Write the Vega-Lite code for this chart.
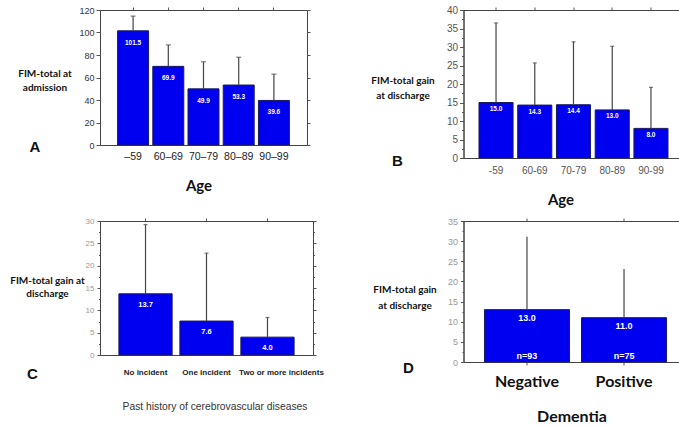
{
  "$schema": "https://vega.github.io/schema/vega-lite/v6.json",
  "autosize": {"type": "pad"},
  "padding": {"left": 9, "top": 4, "right": 0, "bottom": 0},
  "background": "white",
  "bounds": "flush",
  "columns": 2,
  "spacing": {"row": 63, "column": 150.5},
  "config": {
    "view": {"stroke": "#444", "strokeWidth": 1},
    "font": "Liberation Sans",
    "axis": {"grid": false, "domainColor": "#444", "tickColor": "#555"}
  },
  "concat": [
    {
      "width": 207, "height": 135,
      "title": {"text": "A", "orient": "top", "anchor": "start", "frame": "group", "align": "center", "baseline": "middle", "offset": 0, "dx": -65, "dy": 156, "fontSize": 15, "fontWeight": "bold", "font": "Liberation Sans", "color": "#111"},
      "data": {"values": [
        {"age": "–59", "v": 101.5, "e": 114.5},
        {"age": "60–69", "v": 69.9, "e": 89},
        {"age": "70–79", "v": 49.9, "e": 74},
        {"age": "80–89", "v": 53.3, "e": 78},
        {"age": "90–99", "v": 39.6, "e": 63}
      ]},
      "resolve": {"axis": {"x": "independent", "y": "independent"}},
      "layer": [
        {
          "mark": {"type": "bar", "fill": "#0000F0", "stroke": "#1a1a5a", "strokeWidth": 1},
          "encoding": {
            "x": {"field": "age", "type": "nominal", "sort": null, "scale": {"paddingInner": 0.12, "paddingOuter": 0.5},
              "axis": {"orient": "bottom", "labelAngle": 0, "ticks": false, "domain": false, "labelPadding": 6, "labelFontSize": 10.5, "labelColor": "#222", "title": "Age", "titleFont": "Lato", "titleFontSize": 15, "titleFontWeight": "bold", "titleColor": "#111", "titleX": 98.5, "titleY": 40, "titleBaseline": "middle", "titleAlign": "center"}},
            "y": {"field": "v", "type": "quantitative", "scale": {"domain": [0, 120], "nice": false},
              "axis": {"orient": "left", "values": [0, 20, 40, 60, 80, 100, 120], "tickSize": 4, "labelFontSize": 9, "labelColor": "#333", "labelPadding": 2, "title": ["FIM-total at", "admission"], "titleAngle": 0, "titleFont": "Lato", "titleFontSize": 10, "titleFontWeight": "bold", "titleColor": "#111", "titleLineHeight": 14, "titleX": -55.5, "titleY": 63, "titleAlign": "center", "titleBaseline": "middle"}}
          }
        },
        {
          "mark": {"type": "rule", "color": "#444", "strokeWidth": 1.2},
          "encoding": {
            "x": {"field": "age", "type": "nominal", "sort": null, "scale": {"paddingInner": 0.12, "paddingOuter": 0.5},
              "axis": {"orient": "top", "labels": false, "domain": false, "tickSize": 3, "title": null}},
            "y": {"field": "v", "type": "quantitative", "scale": {"domain": [0, 120], "nice": false},
              "axis": {"orient": "right", "labels": false, "domain": false, "tickSize": 3, "values": [0, 20, 40, 60, 80, 100, 120], "title": null}},
            "y2": {"field": "e"}
          }
        },
        {
          "mark": {"type": "tick", "orient": "horizontal", "size": 5, "thickness": 1.2, "color": "#444"},
          "encoding": {
            "x": {"field": "age", "type": "nominal", "sort": null, "axis": null},
            "y": {"field": "e", "type": "quantitative", "axis": null}
          }
        },
        {
          "mark": {"type": "text", "color": "white", "fontSize": 6.5, "fontWeight": "bold", "baseline": "middle", "dy": 12},
          "encoding": {
            "x": {"field": "age", "type": "nominal", "sort": null, "axis": null},
            "y": {"field": "v", "type": "quantitative", "axis": null},
            "text": {"field": "v", "type": "quantitative", "format": ".1f"}
          }
        }
      ]
    },
    {
      "width": 220, "height": 148,
      "title": {"text": "B", "orient": "top", "anchor": "start", "frame": "group", "align": "center", "baseline": "middle", "offset": 0, "dx": -66, "dy": 171, "fontSize": 15, "fontWeight": "bold", "font": "Liberation Sans", "color": "#111"},
      "data": {"values": [
        {"age": "-59", "v": 15.0, "e": 36.5},
        {"age": "60-69", "v": 14.3, "e": 25.7},
        {"age": "70-79", "v": 14.4, "e": 31.4},
        {"age": "80-89", "v": 13.0, "e": 30.2},
        {"age": "90-99", "v": 8.0, "e": 19.1}
      ]},
      "resolve": {"axis": {"x": "independent", "y": "independent"}},
      "layer": [
        {
          "mark": {"type": "bar", "fill": "#0000F0", "stroke": "#1a1a5a", "strokeWidth": 1},
          "encoding": {
            "x": {"field": "age", "type": "nominal", "sort": null, "scale": {"paddingInner": 0.12, "paddingOuter": 0.4},
              "axis": {"orient": "bottom", "labelAngle": 0, "ticks": false, "domain": false, "labelPadding": 7, "labelFontSize": 10, "labelColor": "#555", "title": "Age", "titleFont": "Lato", "titleFontSize": 15, "titleFontWeight": "bold", "titleColor": "#111", "titleX": 97, "titleY": 41, "titleBaseline": "middle", "titleAlign": "center"}},
            "y": {"field": "v", "type": "quantitative", "scale": {"domain": [0, 40], "nice": false},
              "axis": {"orient": "left", "values": [0, 2.5, 5, 7.5, 10, 12.5, 15, 17.5, 20, 22.5, 25, 27.5, 30, 32.5, 35, 37.5, 40], "labelExpr": "datum.value % 5 === 0 ? datum.label : ''", "tickSize": {"condition": {"test": "datum.value % 5 === 0", "value": 4}, "value": 2}, "labelFontSize": 10, "labelColor": "#555", "labelPadding": 2, "title": ["FIM-total gain", "at discharge"], "titleAngle": 0, "titleFont": "Lato", "titleFontSize": 10, "titleFontWeight": "bold", "titleColor": "#111", "titleLineHeight": 15, "titleX": -61, "titleY": 70.5, "titleAlign": "center", "titleBaseline": "middle"}}
          }
        },
        {
          "mark": {"type": "rule", "color": "#444", "strokeWidth": 1.2},
          "encoding": {
            "x": {"field": "age", "type": "nominal", "sort": null, "scale": {"paddingInner": 0.12, "paddingOuter": 0.4},
              "axis": {"orient": "top", "labels": false, "domain": false, "tickSize": 3, "title": null}},
            "y": {"field": "v", "type": "quantitative", "scale": {"domain": [0, 40], "nice": false},
              "axis": {"orient": "right", "labels": false, "domain": false, "tickSize": 3, "values": [0, 5, 10, 15, 20, 25, 30, 35, 40], "title": null}},
            "y2": {"field": "e"}
          }
        },
        {
          "mark": {"type": "tick", "orient": "horizontal", "size": 4, "thickness": 1.2, "color": "#444"},
          "encoding": {
            "x": {"field": "age", "type": "nominal", "sort": null, "axis": null},
            "y": {"field": "e", "type": "quantitative", "axis": null}
          }
        },
        {
          "mark": {"type": "text", "color": "white", "fontSize": 6.5, "fontWeight": "bold", "baseline": "middle", "dy": 6.5},
          "encoding": {
            "x": {"field": "age", "type": "nominal", "sort": null, "axis": null},
            "y": {"field": "v", "type": "quantitative", "axis": null},
            "text": {"field": "v", "type": "quantitative", "format": ".1f"}
          }
        }
      ]
    },
    {
      "width": 213, "height": 134,
      "title": {"text": "C", "orient": "top", "anchor": "start", "frame": "group", "align": "center", "baseline": "middle", "offset": 0, "dx": -67.5, "dy": 172, "fontSize": 15, "fontWeight": "bold", "font": "Liberation Sans", "color": "#111"},
      "data": {"values": [
        {"h": "No incident", "v": 13.7, "e": 29.2},
        {"h": "One incident", "v": 7.6, "e": 22.8},
        {"h": "Two or more incidents", "v": 4.0, "e": 8.4}
      ]},
      "resolve": {"axis": {"x": "independent", "y": "independent"}},
      "layer": [
        {
          "mark": {"type": "bar", "fill": "#0000F0", "stroke": "#1a1a5a", "strokeWidth": 1},
          "encoding": {
            "x": {"field": "h", "type": "nominal", "sort": null, "scale": {"paddingInner": 0.127, "paddingOuter": 0.31},
              "axis": {"orient": "bottom", "labelAngle": 0, "ticks": false, "domain": false, "labelPadding": 13, "labelFontSize": 8, "labelFontWeight": "bold", "labelColor": "#222", "labelLimit": 0, "labelOffset": {"condition": {"test": "datum.value === 'Two or more incidents'", "value": 14}, "value": 0}, "title": "Past history of cerebrovascular diseases", "titleFont": "Liberation Sans", "titleFontSize": 10.3, "titleFontWeight": "normal", "titleColor": "#333", "titleX": 114.5, "titleY": 51, "titleBaseline": "middle", "titleAlign": "center"}},
            "y": {"field": "v", "type": "quantitative", "scale": {"domain": [0, 30], "nice": false},
              "axis": {"orient": "left", "values": [0, 2.5, 5, 7.5, 10, 12.5, 15, 17.5, 20, 22.5, 25, 27.5, 30], "labelExpr": "datum.value % 5 === 0 ? datum.label : ''", "tickSize": {"condition": {"test": "datum.value % 5 === 0", "value": 3}, "value": 1.5}, "labelFontSize": 8, "labelColor": "#999", "labelPadding": 3, "title": ["FIM-total gain at", "discharge"], "titleAngle": 0, "titleFont": "Lato", "titleFontSize": 10, "titleFontWeight": "bold", "titleColor": "#111", "titleLineHeight": 13, "titleX": -53, "titleY": 59, "titleAlign": "center", "titleBaseline": "middle"}}
          }
        },
        {
          "mark": {"type": "rule", "color": "#444", "strokeWidth": 1.2},
          "encoding": {
            "x": {"field": "h", "type": "nominal", "sort": null, "scale": {"paddingInner": 0.127, "paddingOuter": 0.31},
              "axis": {"orient": "top", "labels": false, "domain": false, "tickSize": 3, "title": null}},
            "y": {"field": "v", "type": "quantitative", "scale": {"domain": [0, 30], "nice": false},
              "axis": {"orient": "right", "labels": false, "domain": false, "values": [0, 2.5, 5, 7.5, 10, 12.5, 15, 17.5, 20, 22.5, 25, 27.5, 30], "tickSize": {"condition": {"test": "datum.value % 5 === 0", "value": 3}, "value": 1.5}, "title": null}},
            "y2": {"field": "e"}
          }
        },
        {
          "mark": {"type": "tick", "orient": "horizontal", "size": 4, "thickness": 1.2, "color": "#444"},
          "encoding": {
            "x": {"field": "h", "type": "nominal", "sort": null, "axis": null},
            "y": {"field": "e", "type": "quantitative", "axis": null}
          }
        },
        {
          "mark": {"type": "text", "color": "white", "fontSize": 7.5, "fontWeight": "bold", "baseline": "middle", "dy": 11},
          "encoding": {
            "x": {"field": "h", "type": "nominal", "sort": null, "axis": null},
            "y": {"field": "v", "type": "quantitative", "axis": null},
            "text": {"field": "v", "type": "quantitative", "format": ".1f"}
          }
        }
      ]
    },
    {
      "width": 224, "height": 141,
      "title": {"text": "D", "orient": "top", "anchor": "start", "frame": "group", "align": "center", "baseline": "middle", "offset": 0, "dx": -55, "dy": 166, "fontSize": 15, "fontWeight": "bold", "font": "Liberation Sans", "color": "#111"},
      "data": {"values": [
        {"d": "Negative", "v": 13.0, "e": 31.1, "n": "n=93"},
        {"d": "Positive", "v": 11.0, "e": 23.1, "n": "n=75"}
      ]},
      "resolve": {"axis": {"x": "independent", "y": "independent"}},
      "layer": [
        {
          "mark": {"type": "bar", "fill": "#0000F0", "stroke": "#1a1a5a", "strokeWidth": 1},
          "encoding": {
            "x": {"field": "d", "type": "nominal", "sort": null, "scale": {"paddingInner": 0.124, "paddingOuter": 0.216},
              "axis": {"orient": "bottom", "labelAngle": 0, "ticks": true, "tickSize": 3, "domain": false, "labelPadding": 8, "labelFont": "Lato", "labelFontSize": 16, "labelFontWeight": "bold", "labelColor": "#111", "title": "Dementia", "titleFont": "Lato", "titleFontSize": 16, "titleFontWeight": "bold", "titleColor": "#111", "titleX": 108, "titleY": 54, "titleBaseline": "middle", "titleAlign": "center"}},
            "y": {"field": "v", "type": "quantitative", "scale": {"domain": [0, 35], "nice": false},
              "axis": {"orient": "left", "values": [0, 2.5, 5, 7.5, 10, 12.5, 15, 17.5, 20, 22.5, 25, 27.5, 30, 32.5, 35], "labelExpr": "datum.value % 5 === 0 ? datum.label : ''", "tickSize": {"condition": {"test": "datum.value % 5 === 0", "value": 3}, "value": 1.5}, "labelFontSize": 9, "labelColor": "#999", "labelPadding": 3, "title": ["FIM-total gain", "at discharge"], "titleAngle": 0, "titleFont": "Lato", "titleFontSize": 10, "titleFontWeight": "bold", "titleColor": "#111", "titleLineHeight": 16, "titleX": -59, "titleY": 68, "titleAlign": "center", "titleBaseline": "middle"}}
          }
        },
        {
          "mark": {"type": "rule", "color": "#444", "strokeWidth": 1.2},
          "encoding": {
            "x": {"field": "d", "type": "nominal", "sort": null, "scale": {"paddingInner": 0.124, "paddingOuter": 0.216},
              "axis": {"orient": "top", "labels": false, "domain": false, "tickSize": 3, "title": null}},
            "y": {"field": "v", "type": "quantitative", "scale": {"domain": [0, 35], "nice": false},
              "axis": {"orient": "right", "labels": false, "domain": false, "tickSize": 3, "values": [0, 5, 10, 15, 20, 25, 30, 35], "title": null}},
            "y2": {"field": "e"}
          }
        },
        {
          "mark": {"type": "text", "color": "white", "fontSize": 9, "fontWeight": "bold", "baseline": "middle", "dy": 8},
          "encoding": {
            "x": {"field": "d", "type": "nominal", "sort": null, "axis": null},
            "y": {"field": "v", "type": "quantitative", "axis": null},
            "text": {"field": "v", "type": "quantitative", "format": ".1f"}
          }
        },
        {
          "mark": {"type": "text", "color": "white", "fontSize": 9, "fontWeight": "bold", "baseline": "middle", "dy": -6},
          "encoding": {
            "x": {"field": "d", "type": "nominal", "sort": null, "axis": null},
            "y": {"datum": 0, "type": "quantitative", "axis": null},
            "text": {"field": "n", "type": "nominal"}
          }
        }
      ]
    }
  ]
}
